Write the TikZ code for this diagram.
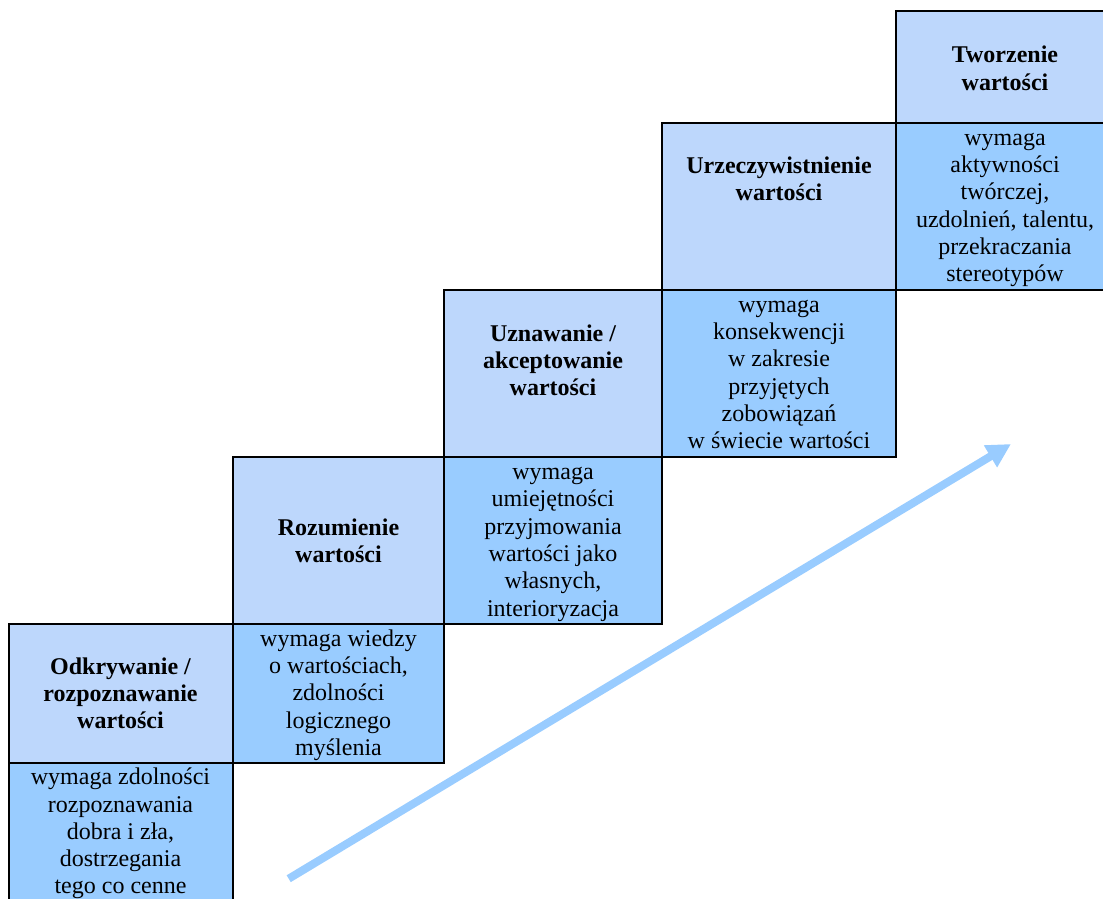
\documentclass[tikz,border=0pt]{standalone}
\usepackage{fontspec}
\setmainfont{Liberation Serif}
\usetikzlibrary{arrows.meta}
\definecolor{titleblue}{HTML}{BDD7FC}
\definecolor{textblue}{HTML}{99CCFF}
\definecolor{arrowblue}{HTML}{99CCFF}
\begin{document}
\begin{tikzpicture}[x=1pt,y=-1pt,
  titlecell/.style={fill=titleblue,draw=black,line width=2pt},
  textcell/.style={fill=textblue,draw=black,line width=2pt},
  lbl/.style={inner sep=0pt,align=center,anchor=north,font=\fontsize{24}{27.3}\selectfont},
  ttl/.style={inner sep=0pt,align=center,anchor=north,font=\fontsize{24}{27.3}\selectfont\bfseries},
  bigarrow/.style={draw=arrowblue,line width=8pt,-{Triangle[length=24pt,width=24pt]}}]
\useasboundingbox (0,0) rectangle (1103,899);
% cells
\draw[titlecell] (8.5,623.5) rectangle (233,763);
\draw[textcell]  (8.5,763) rectangle (233,905);
\draw[titlecell] (233,457) rectangle (444,623.5);
\draw[textcell]  (233,623.5) rectangle (444,763);
\draw[titlecell] (444,289.5) rectangle (662,457);
\draw[textcell]  (444,457) rectangle (662,623.5);
\draw[titlecell] (662,123) rectangle (896,289.5);
\draw[textcell]  (662,289.5) rectangle (896,457);
\draw[titlecell] (896,11) rectangle (1115,123);
\draw[textcell]  (896,123) rectangle (1115,289.5);
% texts
\node[ttl] (t1) at (120.5,654.9) {\strut Odkrywanie /\\rozpoznawanie\\wartości};
\node[lbl] (d1) at (120.5,765.4) {\strut wymaga zdolności\\rozpoznawania\\dobra i zła,\\dostrzegania\\tego co cenne};
\node[ttl] (t2) at (338.5,515.9) {\strut Rozumienie\\wartości};
\node[lbl] (d2) at (338.5,626.9) {\strut wymaga wiedzy\\o wartościach,\\zdolności\\logicznego\\myślenia};
\node[ttl] (t3) at (553,321.9) {\strut Uznawanie /\\akceptowanie\\wartości};
\node[lbl] (d3) at (553,460.3) {\strut wymaga\\umiejętności\\przyjmowania\\wartości jako\\własnych,\\interioryzacja};
\node[ttl] (t4) at (779,153.9) {\strut Urzeczywistnienie\\wartości};
\node[lbl] (d4) at (779,292.8) {\strut wymaga\\konsekwencji\\w zakresie\\przyjętych\\zobowiązań\\w świecie wartości};
\node[ttl] (t5) at (1005,43.6) {\strut Tworzenie\\wartości};
\node[lbl] (d5) at (1005,125.9) {\strut wymaga\\aktywności\\twórczej,\\uzdolnień, talentu,\\przekraczania\\stereotypów};
% arrow
\coordinate (a0) at (288.7,878.7);
\coordinate (a1) at (1011,444);
\draw[bigarrow] (a0) -- (a1);
\end{tikzpicture}
\end{document}
